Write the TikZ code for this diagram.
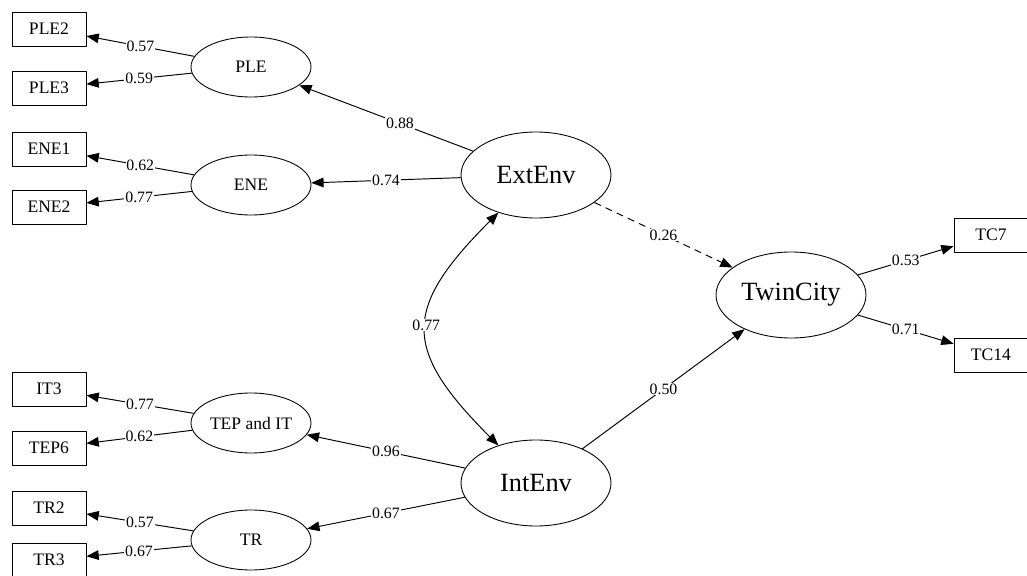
\documentclass[tikz,border=0pt]{standalone}
\usepackage{fontspec}
\setmainfont{Liberation Serif}
\usetikzlibrary{arrows.meta,shapes.geometric}
\tikzset{
    every picture/.style={line join=round},
    indicator/.style={draw,rectangle,line width=0.5pt,minimum width=14.8mm,
      minimum height=6.8mm,inner sep=1pt,font=\fontsize{10}{12}\selectfont},
    factor/.style={draw,ellipse,line width=0.5pt,minimum width=24mm,
      minimum height=12mm,inner sep=0pt,font=\fontsize{10}{12}\selectfont},
    construct/.style={draw,ellipse,line width=0.5pt,minimum width=30mm,
      minimum height=17.2mm,inner sep=0pt,font=\fontsize{15}{18}\selectfont},
    loadarrow/.style={-{Triangle[length=7pt,width=5.5pt]},line width=0.55pt},
    covarrow/.style={{Triangle[length=7pt,width=5.5pt]}-{Triangle[length=7pt,width=5.5pt]},
      line width=0.55pt},
    coef/.style={fill=white,inner xsep=0.5pt,inner ysep=0.5pt,
      font=\fontsize{9}{10}\selectfont}
}
\begin{document}
\begin{tikzpicture}
  \useasboundingbox (0,0) rectangle (20.54,-11.52);
  % latent constructs
  \node[construct] (ext) at (10.72,-3.50) {ExtEnv};
  \node[construct] (int) at (10.72,-9.66) {IntEnv};
  \node[construct] (twin) at (15.82,-5.90) {TwinCity};
  \foreach \n/\y/\t in {ple/-1.34/PLE,ene/-3.70/ENE,tep/-8.46/TEP and IT,tr/-10.80/TR} {
    \node[factor] (\n) at (5.02,\y) {\t};
  }
  % observed items
  \foreach \n/\y/\t in {ple2/-0.58/PLE2,ple3/-1.76/PLE3,ene1/-2.98/ENE1,ene2/-4.14/ENE2,
      it3/-7.78/IT3,tep6/-8.96/TEP6,tr2/-10.16/TR2,tr3/-11.20/TR3} {
    \node[indicator] (\n) at (0.98,\y) {\t};
  }
  \node[indicator] (tc7) at (19.82,-4.70) {TC7};
  \node[indicator] (tc14) at (19.82,-7.10) {TC14};
  % loadings and paths
  \foreach \a/\b/\w in {ple/ple2/0.57,ple/ple3/0.59,ene/ene1/0.62,ene/ene2/0.77,
      tep/it3/0.77,tep/tep6/0.62,tr/tr2/0.57,tr/tr3/0.67,twin/tc7/0.53,twin/tc14/0.71,
      ext/ene/0.74,int/tep/0.96,int/tr/0.67,int/twin/0.50} {
    \draw[loadarrow] (\a) -- node[coef] {\w} (\b);
  }
  \draw[loadarrow] (ext) -- node[coef,pos=0.42] {0.88} (ple);
  \draw[loadarrow,dash pattern=on 4pt off 3pt] (ext) -- node[coef] {0.26} (twin);
  \draw[covarrow] (ext) to[out=225,in=135,looseness=1.5] node[coef,pos=0.48] {0.77} (int);
\end{tikzpicture}
\end{document}
